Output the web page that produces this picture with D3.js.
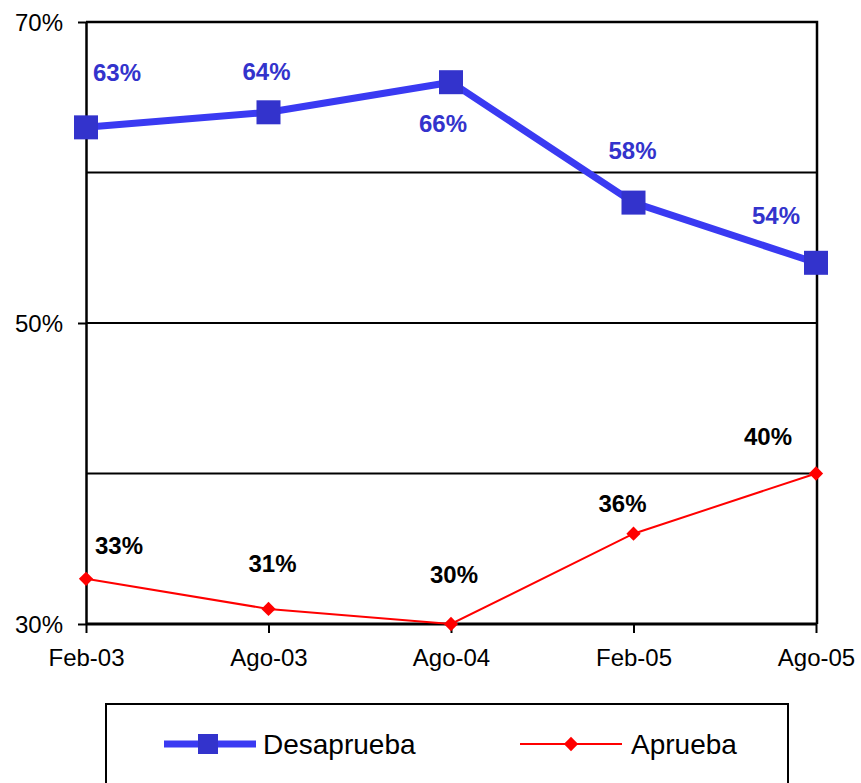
<!DOCTYPE html>
<html>
<head>
<meta charset="utf-8">
<script src="https://cdn.jsdelivr.net/npm/d3@7"></script>
<style>
  body { margin: 0; background: #fff; }
  text { font-family: "Liberation Sans", Arial, sans-serif; }
</style>
</head>
<body>
<svg id="chart" width="861" height="783"></svg>
<script>
// data
const categories = ['Feb-03', 'Ago-03', 'Ago-04', 'Feb-05', 'Ago-05'];
const desaprueba = [63, 64, 66, 58, 54];
const aprueba = [33, 31, 30, 36, 40];
const yTicks = [30, 50, 70];
const gridLines = [40, 50, 60];

// label offsets (dx, dy) relative to each point
const desLabelOff = [[31, -55], [-2, -41], [-8, 41], [-1, -52], [-40, -47]];
const aprLabelOff = [[33, -33], [4, -45], [3, -49], [-11, -30], [-48, -37]];

const svg = d3.select('#chart');
const plotLeft = 86, plotRight = 816, plotTop = 22, plotBottom = 624;

const x = d3.scalePoint().domain(categories).range([plotLeft, plotRight]);
const y = d3.scaleLinear().domain([30, 70]).range([plotBottom, plotTop]);

// gridlines
svg.append('g')
  .selectAll('line')
  .data(gridLines)
  .join('line')
    .attr('x1', plotLeft).attr('x2', plotRight + 1)
    .attr('y1', d => y(d)).attr('y2', d => y(d))
    .attr('stroke', '#000').attr('stroke-width', 2);

// frame: top and right border
svg.append('path')
  .attr('d', `M${plotLeft},${plotTop}H${plotRight + 1}V${plotBottom}`)
  .attr('fill', 'none').attr('stroke', '#000').attr('stroke-width', 2.5);

// y axis
const yAxis = svg.append('g')
  .attr('transform', `translate(${plotLeft},0)`)
  .call(d3.axisLeft(y).tickValues(yTicks).tickSize(8).tickSizeOuter(0).tickFormat(d => d + '%'));
yAxis.select('.domain').attr('stroke-width', 2.5);
yAxis.selectAll('.tick line').attr('stroke-width', 2);
yAxis.selectAll('.tick text')
  .attr('x', -23).attr('dy', '0.35em')
  .attr('font-size', 24).attr('fill', '#000')
  .style('font-family', '"Liberation Sans", Arial, sans-serif');

// x axis
const xAxis = svg.append('g')
  .attr('transform', `translate(0,${plotBottom})`)
  .call(d3.axisBottom(x).tickSize(9).tickSizeOuter(0).tickPadding(16));
xAxis.select('.domain').attr('stroke-width', 3).attr('d', `M${plotLeft},0H${plotRight + 1}`);
xAxis.selectAll('.tick line').attr('stroke-width', 2);
xAxis.selectAll('.tick text')
  .attr('font-size', 24).attr('fill', '#000')
  .style('font-family', '"Liberation Sans", Arial, sans-serif');

// Desaprueba line
const line = d3.line().x((d, i) => x(categories[i])).y(d => y(d));
svg.append('path')
  .datum(desaprueba)
  .attr('d', line)
  .attr('fill', 'none')
  .attr('stroke', '#3a3af2')
  .attr('stroke-width', 7)
  .attr('stroke-linejoin', 'round');

svg.append('g')
  .selectAll('rect')
  .data(desaprueba)
  .join('rect')
    .attr('x', (d, i) => x(categories[i]) - 12)
    .attr('y', d => y(d) - 12)
    .attr('width', 24).attr('height', 24)
    .attr('fill', '#3333cc');

// Aprueba line
svg.append('path')
  .datum(aprueba)
  .attr('d', line)
  .attr('fill', 'none')
  .attr('stroke', '#ff0000')
  .attr('stroke-width', 2);

const diamond = d3.symbol().type(d3.symbolDiamond2).size(130);
svg.append('g')
  .selectAll('path')
  .data(aprueba)
  .join('path')
    .attr('transform', (d, i) => `translate(${x(categories[i])},${y(d)})`)
    .attr('d', diamond)
    .attr('fill', '#ff0000');

// value labels
svg.append('g')
  .selectAll('text')
  .data(desaprueba)
  .join('text')
    .attr('x', (d, i) => x(categories[i]) + desLabelOff[i][0])
    .attr('y', (d, i) => y(d) + desLabelOff[i][1])
    .attr('text-anchor', 'middle')
    .attr('dy', '0.35em')
    .attr('font-size', 24).attr('font-weight', 'bold')
    .attr('fill', '#3333cc')
    .text(d => d + '%');

svg.append('g')
  .selectAll('text')
  .data(aprueba)
  .join('text')
    .attr('x', (d, i) => x(categories[i]) + aprLabelOff[i][0])
    .attr('y', (d, i) => y(d) + aprLabelOff[i][1])
    .attr('text-anchor', 'middle')
    .attr('dy', '0.35em')
    .attr('font-size', 24).attr('font-weight', 'bold')
    .attr('fill', '#000')
    .text(d => d + '%');

// legend
const legend = svg.append('g');
legend.append('rect')
  .attr('x', 106).attr('y', 704)
  .attr('width', 682).attr('height', 110)
  .attr('fill', '#fff').attr('stroke', '#000').attr('stroke-width', 2);

const ly = 744;
legend.append('line')
  .attr('x1', 164).attr('x2', 256).attr('y1', ly).attr('y2', ly)
  .attr('stroke', '#3a3af2').attr('stroke-width', 7);
legend.append('rect')
  .attr('x', 198).attr('y', ly - 10).attr('width', 20).attr('height', 20)
  .attr('fill', '#3333cc');
legend.append('text')
  .attr('x', 263).attr('y', ly).attr('dy', '0.35em')
  .attr('font-size', 28).attr('fill', '#000')
  .text('Desaprueba');

legend.append('line')
  .attr('x1', 520).attr('x2', 622).attr('y1', ly).attr('y2', ly)
  .attr('stroke', '#ff0000').attr('stroke-width', 2);
legend.append('path')
  .attr('transform', `translate(571,${ly})`)
  .attr('d', diamond)
  .attr('fill', '#ff0000');
legend.append('text')
  .attr('x', 631).attr('y', ly).attr('dy', '0.35em')
  .attr('font-size', 28).attr('fill', '#000')
  .text('Aprueba');
</script>
</body>
</html>
